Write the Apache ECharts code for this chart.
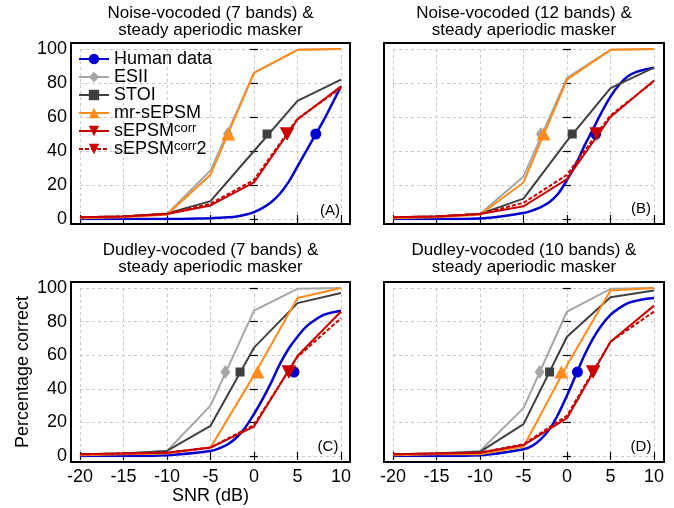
<!DOCTYPE html>
<html>
<head>
<meta charset="utf-8">
<script src="https://cdn.jsdelivr.net/npm/echarts@6/dist/echarts.min.js"></script>
<style>
  html, body { margin: 0; padding: 0; background: #fff; }
  #chart { width: 674px; height: 508px; }
</style>
</head>
<body>
<div id="chart"></div>
<script>
// SNR grid of the model curves and of the fitted human curve
const snr = [-20, -15, -10, -5, 0, 5, 10]
const humanSnr = [-20, -15, -10, -5, -4, -3, -2, -1, 0, 1, 2, 3, 4, 5, 6, 7, 8, 9, 10]
const xTicks = [-20, -15, -10, -5, 0, 5, 10]
const yTicks = [0, 20, 40, 60, 80, 100]

// (A) noise-vocoded, 7 bands
const humanA = [0, 0, 0, 0.5, 0.7, 1, 1.5, 2.5, 4, 6.5, 10, 15, 22, 31, 40, 49, 58, 68, 78]
const esiiA = [1, 1.5, 3, 28.5, 86, 99.5, 100]
const stoiA = [1, 1.5, 3.3, 10.5, 40, 69.5, 82]
const mrA = [0.5, 1, 2.5, 26, 86, 99.5, 100]
const corrA = [1, 1.5, 3, 8, 21.5, 58.5, 78]
const corr2A = [1, 1.5, 3, 9, 23, 59, 77]
const srtA = [7.1, -3.0, 1.5, -2.95, 3.8, 3.8]

// (B) noise-vocoded, 12 bands
const humanB = [0, 0, 0.3, 3.5, 5, 7, 10, 15, 23, 32, 43, 53, 63, 72, 79, 84, 86.5, 88, 89]
const esiiB = [1, 1.5, 3, 25, 83, 99.5, 100]
const stoiB = [1, 1.5, 3, 12, 46, 77, 89]
const mrB = [0.5, 1, 2.5, 21.5, 82, 99.5, 100]
const corrB = [1, 1.5, 3, 7.5, 23.5, 60, 81.5]
const corr2B = [1, 1.5, 3, 9.5, 26, 61, 81]
const srtB = [3.3, -3.0, 0.6, -2.7, 3.4, 3.4]

// (C) Dudley-vocoded, 7 bands
const humanC = [0, 0, 0.5, 3, 4.5, 7, 11, 17, 25, 34, 44, 55, 64, 71, 77, 81, 84, 85.5, 86.5]
const esiiC = [1, 1.5, 3, 30, 86.5, 99.5, 100]
const stoiC = [1, 1.5, 3, 18, 64.5, 91, 97]
const mrC = [0.5, 1, 1.5, 5, 48, 94, 100]
const corrC = [1, 1.5, 2, 5, 17.5, 59.5, 86]
const corr2C = [1, 1.5, 2, 5, 18.5, 59, 82]
const srtC = [4.6, -3.3, -1.6, 0.4, 4.0, 4.0]

// (D) Dudley-vocoded, 10 bands
const humanD = [0, 0, 0.5, 4, 6, 10, 16, 25, 36, 48, 60, 70, 78, 84, 88, 91, 92.5, 93.5, 94]
const esiiD = [1, 1.5, 3, 28.5, 86, 99.5, 100]
const stoiD = [1, 1.5, 2.5, 19, 71, 94.5, 98.5]
const mrD = [0.5, 1, 1, 5.5, 54, 98.5, 100]
const corrD = [1, 1.5, 2, 6.5, 22.5, 68, 89.5]
const corr2D = [1, 1.5, 2, 7, 24, 68, 86]
const srtD = [1.2, -3.15, -2.0, -0.65, 3.0, 3.0]

const panelTitles = [
  'Noise-vocoded (7 bands) &\nsteady aperiodic masker',
  'Noise-vocoded (12 bands) &\nsteady aperiodic masker',
  'Dudley-vocoded (7 bands) &\nsteady aperiodic masker',
  'Dudley-vocoded (10 bands) &\nsteady aperiodic masker',
]
const panelTags = ['(A)', '(B)', '(C)', '(D)']

const panels = [
  { human: humanA, models: [esiiA, stoiA, mrA, corrA, corr2A], srt: srtA },
  { human: humanB, models: [esiiB, stoiB, mrB, corrB, corr2B], srt: srtB },
  { human: humanC, models: [esiiC, stoiC, mrC, corrC, corr2C], srt: srtC },
  { human: humanD, models: [esiiD, stoiD, mrD, corrD, corr2D], srt: srtD },
]

const FONT = 'Liberation Sans, Arial, sans-serif'
const invTri = 'path://M0,0 L10,0 L5,9 Z'

const styles = [
  { name: 'Human data', color: '#0000d0', symbol: 'circle', size: 11, width: 2.5 },
  { name: 'ESII', color: '#a6a6a6', symbol: 'diamond', size: [10, 14], width: 2 },
  { name: 'STOI', color: '#404040', symbol: 'rect', size: 9, width: 2 },
  { name: 'mr-sEPSM', color: '#ff8c1a', symbol: 'triangle', size: [14, 13], width: 2 },
  { name: 'sEPSMcorr', color: '#c80000', symbol: invTri, size: [14, 13], width: 2 },
  { name: 'sEPSMcorr2', color: '#c80000', symbol: invTri, size: [14, 13], width: 2, dashed: true },
]

// data area of each panel and the boxed frame around it
const dataGrids = [
  { left: 80, top: 49, width: 261, height: 170 },
  { left: 393, top: 49, width: 261, height: 170 },
  { left: 80, top: 288, width: 261, height: 168 },
  { left: 393, top: 288, width: 261, height: 168 },
]
const frames = [
  { left: 71, top: 43, width: 279, height: 181 },
  { left: 384, top: 43, width: 280, height: 181 },
  { left: 71, top: 282, width: 279, height: 180 },
  { left: 384, top: 282, width: 280, height: 180 },
]

const tickStyle = { show: true, inside: true, length: 4, lineStyle: { color: '#000', width: 1.2 } }
const gridLine = { show: true, lineStyle: { color: '#c8c8c8', type: [3, 3], width: 1 } }

const grids = []
const xAxes = []
const yAxes = []
const series = []

dataGrids.forEach((g, p) => {
  const f = frames[p]
  const offL = g.left - f.left
  const offR = f.left + f.width - (g.left + g.width)
  const offT = g.top - f.top
  const offB = f.top + f.height - (g.top + g.height)
  grids.push(Object.assign({ containLabel: false }, g))

  xAxes.push({
    gridIndex: p, type: 'value', position: 'bottom', offset: offB,
    min: xTicks[0], max: xTicks[xTicks.length - 1], interval: 5,
    axisLine: { show: false }, axisTick: tickStyle, splitLine: gridLine,
    axisLabel: { show: p >= 2, fontSize: 18, color: '#000', fontFamily: FONT, margin: 6 },
    name: p === 2 ? 'SNR (dB)' : '', nameLocation: 'middle', nameGap: 25,
    nameTextStyle: { fontSize: 18, color: '#000', fontFamily: FONT },
  })
  xAxes.push({
    gridIndex: p, type: 'value', position: 'top', offset: offT,
    min: xTicks[0], max: xTicks[xTicks.length - 1], interval: 5,
    axisLine: { show: false }, axisTick: tickStyle, splitLine: { show: false },
    axisLabel: { show: false },
  })
  yAxes.push({
    gridIndex: p, type: 'value', position: 'left', offset: offL,
    min: yTicks[0], max: yTicks[yTicks.length - 1], interval: 20,
    axisLine: { show: false }, axisTick: tickStyle, splitLine: gridLine,
    axisLabel: { show: p % 2 === 0, fontSize: 18, color: '#000', fontFamily: FONT, margin: 4 },
    name: p === 2 ? 'Percentage correct' : '', nameLocation: 'middle', nameGap: 39,
    nameTextStyle: { fontSize: 18, color: '#000', fontFamily: FONT },
  })
  yAxes.push({
    gridIndex: p, type: 'value', position: 'right', offset: offR,
    min: yTicks[0], max: yTicks[yTicks.length - 1], interval: 20,
    axisLine: { show: false }, axisTick: tickStyle, splitLine: { show: false },
    axisLabel: { show: false },
  })

  const pd = panels[p]
  const curves = [pd.human].concat(pd.models)
  curves.forEach((ys, k) => {
    const st = styles[k]
    const xs = k === 0 ? humanSnr : snr
    series.push({
      name: st.name,
      type: 'line',
      xAxisIndex: 2 * p,
      yAxisIndex: 2 * p,
      data: xs.map((x, i) => [x, ys[i]]),
      smooth: k === 0 ? 0.35 : false,
      symbol: st.symbol,
      showSymbol: false,
      color: st.color,
      itemStyle: { color: st.color },
      lineStyle: { color: st.color, width: st.width, type: st.dashed ? [4, 2] : 'solid' },
      z: 2 + k * 0.1,
      markPoint: {
        symbol: st.symbol,
        symbolSize: st.size,
        label: { show: false },
        itemStyle: { color: st.color },
        data: [{ coord: [pd.srt[k], 50] }],
      },
    })
  })
})

frames.forEach((f) => {
  grids.push(Object.assign({ show: true, borderColor: '#000', borderWidth: 2, backgroundColor: 'transparent' }, f))
})

const graphics = []
panelTitles.forEach((t, p) => {
  const f = frames[p]
  graphics.push({
    type: 'text', x: f.left + f.width / 2, y: p < 2 ? 4.5 : 241.5,
    style: { text: t, fontSize: 17, fontFamily: FONT, fill: '#000', align: 'center', verticalAlign: 'top', lineHeight: 17 },
  })
})
const tagPos = [[330, 211], [641, 209], [328, 447], [641, 447]]
panelTags.forEach((t, p) => {
  graphics.push({
    type: 'text', x: tagPos[p][0], y: tagPos[p][1],
    style: { text: t, fontSize: 15, fontFamily: FONT, fill: '#000', align: 'center', verticalAlign: 'middle' },
  })
})

const chart = echarts.init(document.getElementById('chart'), null, { renderer: 'canvas' })
chart.setOption({
  animation: false,
  backgroundColor: '#fff',
  textStyle: { fontFamily: FONT },
  grid: grids,
  xAxis: xAxes,
  yAxis: yAxes,
  legend: {
    data: styles.map((s) => s.name),
    orient: 'vertical',
    left: 73,
    top: 45,
    itemWidth: 30,
    itemHeight: 13,
    itemGap: 0,
    textStyle: {
      fontSize: 18, color: '#000', fontFamily: FONT, lineHeight: 17.5,
      rich: {
        b: { fontSize: 18, lineHeight: 17.5, fontFamily: FONT, color: '#000' },
        s: { fontSize: 13, lineHeight: 17.5, fontFamily: FONT, color: '#000', verticalAlign: 'top' },
      },
    },
    formatter: (name) => {
      if (name === 'sEPSMcorr') return '{b|sEPSM}{s|corr}'
      if (name === 'sEPSMcorr2') return '{b|sEPSM}{s|corr}{b|2}'
      return name
    },
  },
  graphic: graphics,
  series: series,
})
</script>
</body>
</html>
